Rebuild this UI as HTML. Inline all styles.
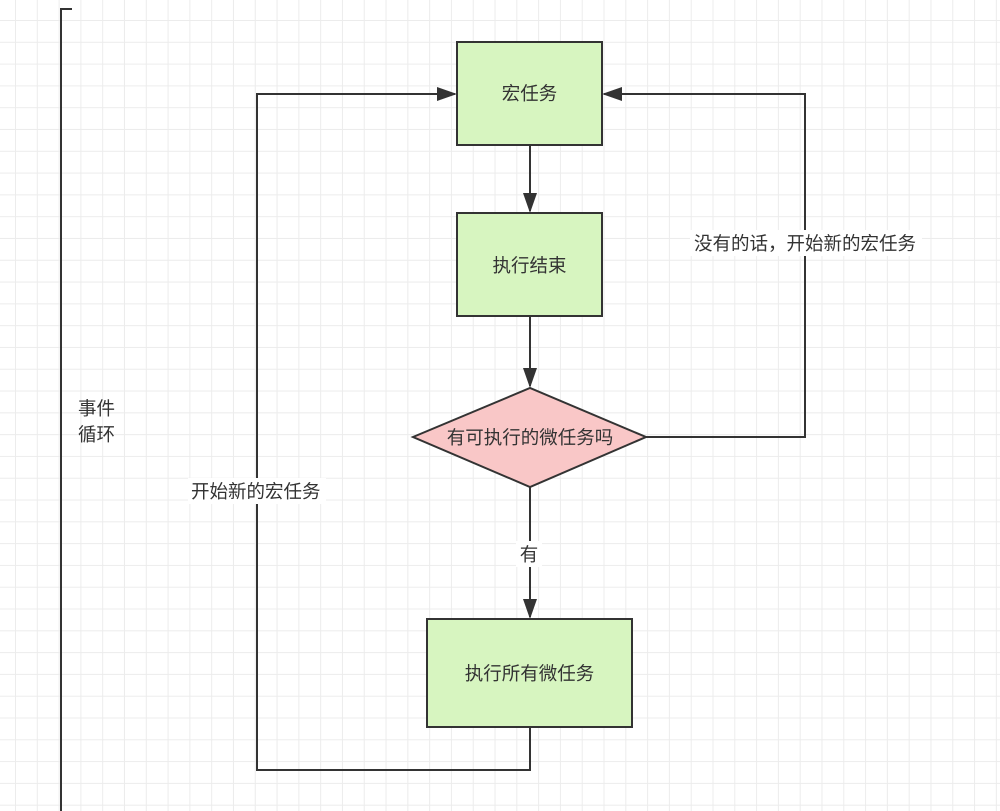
<!DOCTYPE html>
<html><head><meta charset="utf-8"><style>
html,body{margin:0;padding:0;}
body{width:1000px;height:811px;overflow:hidden;background:#fff;
background-image:linear-gradient(to right,#ececec 1px,transparent 1px),linear-gradient(to bottom,#ececec 1px,transparent 1px);
background-size:21.8px 21.8px;background-position:15px 20px;}
svg{position:absolute;left:0;top:0;}
text{font-family:"Liberation Sans","Noto Sans CJK SC",sans-serif;font-size:18.5px;fill:#333;}
</style></head><body>
<svg width="1000" height="811" viewBox="0 0 1000 811">
<defs>
<marker id="b" viewBox="0 0 10 10" refX="9" refY="5" markerWidth="20" markerHeight="20" markerUnits="userSpaceOnUse" orient="auto"><path d="M0,1.5L10,5L0,8.5z" fill="#333"/></marker></defs>
<path d="M72,9H61V811" fill="none" stroke="#333" stroke-width="2"/>
<text x="78" y="415">事件</text><text x="78" y="441">循环</text>
<rect x="457" y="42" width="145" height="103" fill="#d7f5c0" stroke="#333" stroke-width="2"/>
<text x="529.5" y="100" text-anchor="middle">宏任务</text>
<rect x="457" y="213" width="145" height="103" fill="#d7f5c0" stroke="#333" stroke-width="2"/>
<text x="529.5" y="272" text-anchor="middle">执行结束</text>
<polygon points="413,437 530,388 646,437 530,487" fill="#f9c7c7" stroke="#333" stroke-width="2"/>
<text x="530" y="444" text-anchor="middle">有可执行的微任务吗</text>
<rect x="427" y="619" width="205" height="108" fill="#d7f5c0" stroke="#333" stroke-width="2"/>
<text x="529.5" y="680" text-anchor="middle">执行所有微任务</text>
<g fill="none" stroke="#333" stroke-width="2">
<path d="M530,145V211" marker-end="url(#b)"/>
<path d="M530,316V386" marker-end="url(#b)"/>
<path d="M530,487V617" marker-end="url(#b)"/>
<path d="M646,437H805V94H604" marker-end="url(#b)"/>
<path d="M530,727V770H257V94H455" marker-end="url(#b)"/>
</g>
<rect x="516" y="541" width="26" height="26" fill="#fff"/>
<text x="529" y="561" text-anchor="middle">有</text>
<rect x="690" y="230" width="232" height="26" fill="#fff"/>
<text x="694" y="250">没有的话，开始新的宏任务</text>
<rect x="188" y="478" width="138" height="26" fill="#fff"/>
<text x="191" y="498">开始新的宏任务</text>
</svg>
</body></html>
